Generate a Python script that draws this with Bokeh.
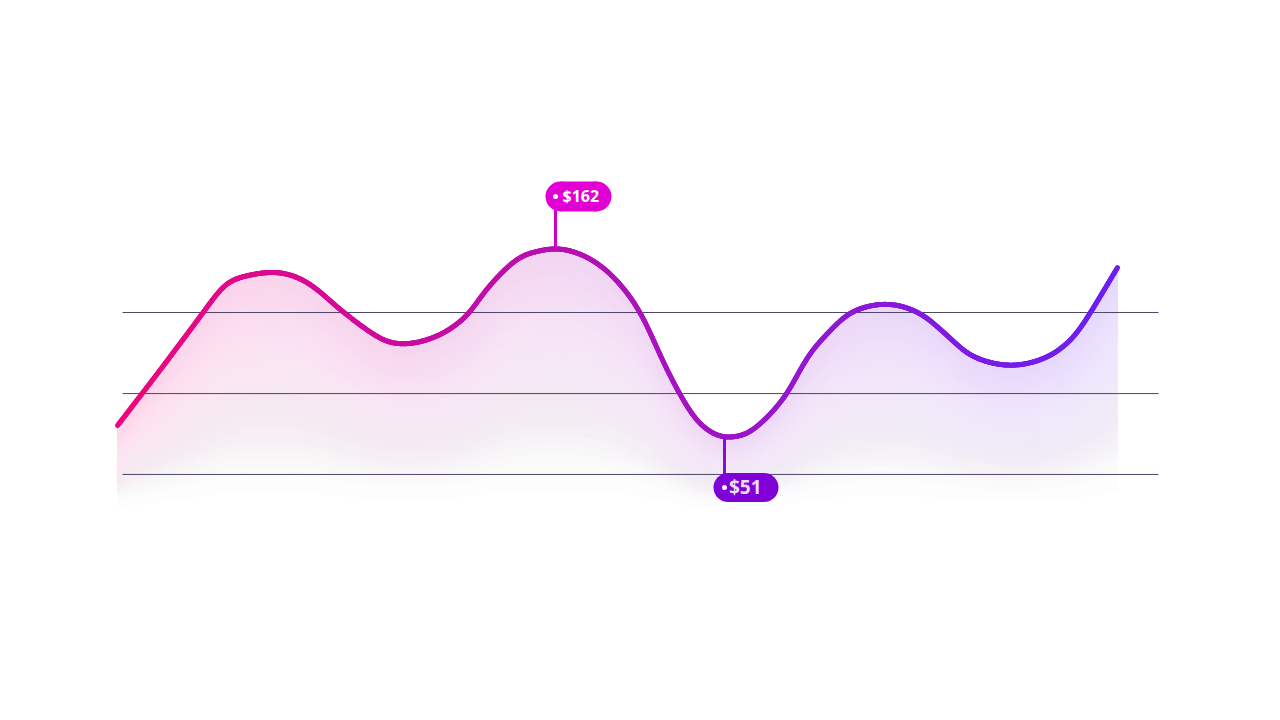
import numpy as np
from bokeh.plotting import figure
from bokeh.models import Range1d
from bokeh.core.properties import value
from bokeh.embed import file_html
from bokeh.resources import INLINE

# ---------------- data ----------------
days = [0.0, 4.3, 8.5, 10.63, 12.3, 15.63, 18.97, 22.63, 26.63, 28.8, 31.3,
        33.3, 35.3, 36.63, 39.97, 42.3, 43.8, 46.97, 49.63, 52.3, 54.97,
        57.63, 59.3, 60.7, 62.97, 64.97, 66.97, 68.97, 70.97, 73.3, 76.9,
        80.3, 82.97, 85.3, 89.3, 92.97, 95.63, 97.3, 100.0]
prices = [58.0, 90.9, 123.8, 140.3, 145.1, 148.1, 142.2, 124.4, 108.0, 105.9,
          109.0, 114.8, 124.6, 136.3, 156.0, 160.8, 162.0, 156.9, 145.1, 124.4,
          90.4, 62.9, 54.1, 51.0, 53.2, 62.9, 76.7, 98.2, 111.9, 124.4, 129.4,
          123.8, 110.9, 99.2, 93.3, 98.2, 109.9, 124.4, 150.8]
grid_levels = [124.4, 76.8, 29.3]
grid_span = [0.5, 104.1]

# ---------------- style ----------------
W, H = 1264, 704
X0, X1 = -11.7, 114.7
Y0, Y1 = -105.81, 307.65
SX = (X1 - X0) / W          # data units per pixel (x)
SY = (Y1 - Y0) / H          # data units per pixel (y)
START_COL = (242, 4, 124)
END_COL = (106, 31, 246)
SHADOW_COL = (95, 85, 105)
FILL_BASE = 5.0
SMOOTH_PX = 7.0


def hexcol(c):
    return "#%02x%02x%02x" % tuple(int(round(min(255, max(0, v)))) for v in c)


def mix(t):
    t = float(np.clip(t, 0, 1))
    return [START_COL[i] + (END_COL[i] - START_COL[i]) * t for i in range(3)]


def hermite(x, y, xs):
    """cubic Hermite curve through (x, y); flat at local extrema"""
    x = np.asarray(x, float)
    y = np.asarray(y, float)
    n = len(x)
    h = np.diff(x)
    d = np.diff(y) / h
    m = np.zeros(n)
    m[0] = d[0]
    m[-1] = d[-1]
    for i in range(1, n - 1):
        if d[i - 1] * d[i] > 0:
            m[i] = (y[i + 1] - y[i - 1]) / (x[i + 1] - x[i - 1])
    xs = np.asarray(xs, float)
    i = np.clip(np.searchsorted(x, xs, side="right") - 1, 0, n - 2)
    t = (xs - x[i]) / h[i]
    h00 = 2 * t**3 - 3 * t**2 + 1
    h10 = t**3 - 2 * t**2 + t
    h01 = -2 * t**3 + 3 * t**2
    h11 = t**3 - t**2
    return h00 * y[i] + h10 * h[i] * m[i] + h01 * y[i + 1] + h11 * h[i] * m[i + 1]


xmin, xmax = min(days), max(days)
step = SX                                    # one sample per screen pixel
xs = np.arange(xmin, xmax + step / 2, step)
raw = hermite(days, prices, xs)
# gaussian smoothing of the drawn path (edges padded by linear extrapolation)
sig = SMOOTH_PX
half = int(4 * sig)
kern = np.exp(-0.5 * (np.arange(-half, half + 1) / sig) ** 2)
kern /= kern.sum()
s0 = raw[1] - raw[0]
s1 = raw[-1] - raw[-2]
pad_l = raw[0] - s0 * np.arange(half, 0, -1)
pad_r = raw[-1] + s1 * np.arange(1, half + 1)
ys = np.convolve(np.concatenate([pad_l, raw, pad_r]), kern, mode="valid")


def curve(q):
    return np.interp(q, xs, ys)


p = figure(width=W, height=H, x_range=Range1d(X0, X1), y_range=Range1d(Y0, Y1),
           output_backend="svg", toolbar_location=None, min_border=0)
p.axis.visible = False
p.grid.visible = False
p.outline_line_color = None
p.background_fill_color = "white"
p.border_fill_color = "white"

# ------------- faded area: opaque bands between scaled copies of the curve -------------
n_slices = 90
n_bands = 30
edges = np.linspace(xmin, xmax, n_slices + 1)
f_edges = np.linspace(0, 1, n_bands + 1)
pxs, pys, pcols = [], [], []
for j in range(n_slices):
    a, b = edges[j], edges[j + 1]
    sx = np.linspace(a, b, 6)
    top = curve(sx)
    tint = mix((0.5 * (a + b) - xmin) / (xmax - xmin))
    for k in range(n_bands):
        f0, f1 = f_edges[k], f_edges[k + 1]
        fc = 0.5 * (f0 + f1)
        o_t = 0.18 * max(0.0, 1 - fc / 0.8)
        o_g = 0.055 * np.exp(-((fc - 0.62) / 0.2) ** 2)
        col = [255 - o_t * (255 - tint[i]) - o_g * (255 - SHADOW_COL[i]) for i in range(3)]
        if min(col) > 253.5:
            continue
        y_hi = FILL_BASE + (top - FILL_BASE) * (1 - f0)
        y_lo = FILL_BASE + (top - FILL_BASE) * (1 - f1)
        pxs.append(list(sx) + list(sx[::-1]))
        pys.append(list(y_hi) + list(y_lo[::-1]))
        pcols.append(hexcol(col))
p.patches(pxs, pys, fill_color=pcols, line_color=pcols, line_width=1)

# ------------- grid lines -------------
p.segment(x0=[grid_span[0]] * len(grid_levels), y0=grid_levels,
          x1=[grid_span[1]] * len(grid_levels), y1=grid_levels,
          line_color="#4d4668", line_width=1)

# ------------- gradient line -------------
cols = [hexcol(mix((0.5 * (xs[i] + xs[i + 1]) - xmin) / (xmax - xmin))) for i in range(len(xs) - 1)]
p.segment(x0=xs[:-1], y0=ys[:-1], x1=xs[1:], y1=ys[1:], line_color=cols,
          line_width=5, line_cap="round")

# ------------- callouts -------------
imax = int(np.argmax(prices))
imin = int(np.argmin(prices))
callouts = [
    # index, direction, pill colour, stem colour, text colour, font size, pill w, pill h, offset, x offset, text offset
    (imax, -1, "#e200d4", "#d000c8", "#ffffff", "16px", 66, 30, 52, 23, 7),
    (imin, +1, "#8000d8", "#8a0cd2", "#ecdcf6", "19px", 65, 29, 50, 21.5, 4.5),
]
for idx, direction, pcol, scol, tcol, fs, pw, ph, off, cx_off, t_off in callouts:
    ax, ay = days[idx], prices[idx]
    cy = ay - direction * off * SY
    p.segment(x0=[ax], y0=[ay], x1=[ax], y1=[cy], line_color=scol, line_width=3)
    cx = ax + cx_off * SX
    p.rect(x=[cx], y=[cy], width=pw - ph, height=ph, width_units="screen",
           height_units="screen", fill_color=pcol, line_color=None)
    p.scatter(x=[cx - (pw - ph) / 2 * SX, cx + (pw - ph) / 2 * SX], y=[cy, cy],
              size=ph, fill_color=pcol, line_color=None)
    p.scatter(x=[ax], y=[cy], size=5, fill_color="white", line_color=None)
    p.text(x=[ax + t_off * SX], y=[cy], text=["$%d" % round(prices[idx])],
           text_font=value("Open Sans"), text_font_style="bold", text_font_size=fs,
           text_color=tcol, text_baseline="middle", text_align="left")

open("out.html", "w").write(file_html(p, INLINE))
